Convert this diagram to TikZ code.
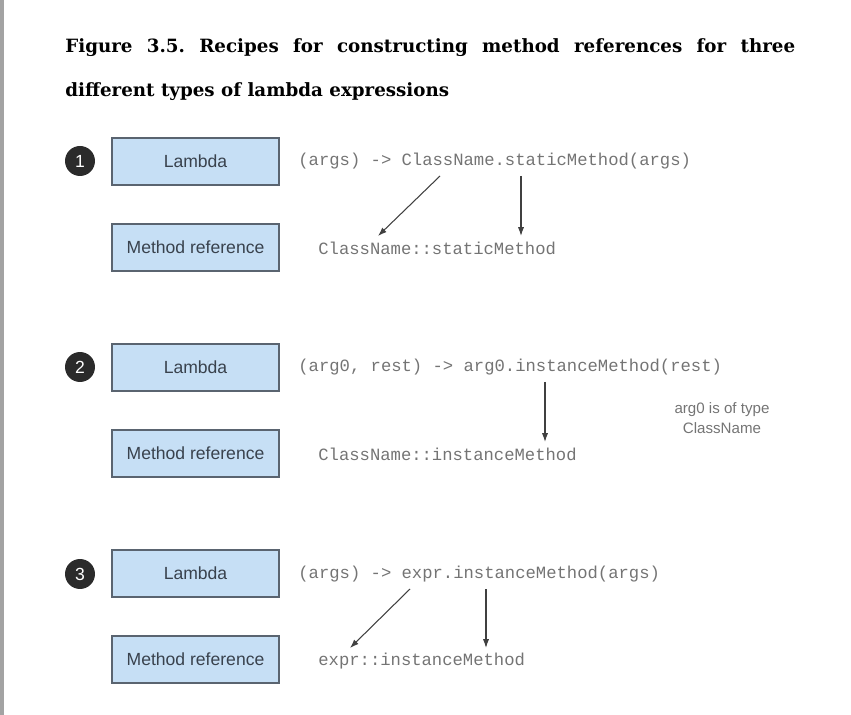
\documentclass[tikz,border=0pt]{standalone}
\usepackage{fontspec}
\setmainfont{Liberation Sans}
\newfontfamily\titlefont{DejaVu Serif}
\newfontfamily\codefont{Liberation Mono}
\usetikzlibrary{arrows.meta}
\definecolor{boxfill}{HTML}{C6DFF5}
\definecolor{boxline}{HTML}{5A6470}
\definecolor{boxtext}{HTML}{39424D}
\definecolor{codegray}{HTML}{747474}
\definecolor{bullet}{HTML}{2B2B2B}
\definecolor{pagebar}{HTML}{A3A3A3}
\frenchspacing
\begin{document}
\begin{tikzpicture}[x=0.02cm,y=-0.02cm,
  stepbox/.style={draw=boxline,fill=boxfill,line width=0.7pt,minimum width=3.34cm,minimum height=0.94cm,inner sep=0pt,text=boxtext,font=\fontsize{10pt}{12pt}\selectfont},
  numdot/.style={circle,fill=bullet,minimum size=0.6cm,inner sep=0pt,text=white,font=\fontsize{10pt}{12pt}\selectfont},
  code/.style={anchor=west,inner sep=0pt,text=codegray,font=\codefont\fontsize{9.8pt}{12pt}\selectfont},
  note/.style={align=center,inner sep=0pt,text=codegray,font=\fontsize{8.6pt}{11.3pt}\selectfont},
  recipe/.style={draw=black!75,line width=0.6pt,-{Latex[length=5pt,width=3.5pt]}}]
\useasboundingbox (0,0) rectangle (851,715);
\fill [pagebar] (0,0) rectangle (4,715);
% title
\node (title1) at (65,53) [anchor=base west,inner sep=0pt] {\titlefont\bfseries\fontsize{10.4pt}{14pt}\selectfont\makebox[14.6cm][s]{Figure 3.5. Recipes for constructing method references for three}};
\node (title2) at (65,97) [anchor=base west,inner sep=0pt] {\titlefont\bfseries\fontsize{10.4pt}{14pt}\selectfont different types of lambda expressions};
% recipe 1: static method
\node (n1) at (80,161) [numdot] {1};
\node (lam1) at (195.5,161.5) [stepbox] {Lambda};
\node (ref1) at (195.5,247.5) [stepbox] {Method reference};
\node (code1) at (298,161) [code] {(args) -> ClassName.staticMethod(args)};
\node (mref1) at (318,248) [code] {ClassName::staticMethod};
\coordinate (c1a) at (440,176); \coordinate (c1b) at (378,236);
\coordinate (c1c) at (521,176); \coordinate (c1d) at (521,236);
\draw [recipe] (c1a) -- (c1b);
\draw [recipe] (c1c) -- (c1d);
% recipe 2: instance method of an arbitrary object
\node (n2) at (80,367) [numdot] {2};
\node (lam2) at (195.5,367.5) [stepbox] {Lambda};
\node (ref2) at (195.5,453.5) [stepbox] {Method reference};
\node (code2) at (298,367) [code] {(arg0, rest) -> arg0.instanceMethod(rest)};
\node (mref2) at (318,454) [code] {ClassName::instanceMethod};
\node (type2) at (722,418) [note] {arg0 is of type\\ClassName};
\coordinate (c2a) at (545,382); \coordinate (c2b) at (545,442);
\draw [recipe] (c2a) -- (c2b);
% recipe 3: instance method of an existing object
\node (n3) at (80,574) [numdot] {3};
\node (lam3) at (195.5,573.5) [stepbox] {Lambda};
\node (ref3) at (195.5,659.5) [stepbox] {Method reference};
\node (code3) at (298,574) [code] {(args) -> expr.instanceMethod(args)};
\node (mref3) at (318,661) [code] {expr::instanceMethod};
\coordinate (c3a) at (410,589); \coordinate (c3b) at (350,648);
\coordinate (c3c) at (486,589); \coordinate (c3d) at (486,648);
\draw [recipe] (c3a) -- (c3b);
\draw [recipe] (c3c) -- (c3d);
\end{tikzpicture}
\end{document}
